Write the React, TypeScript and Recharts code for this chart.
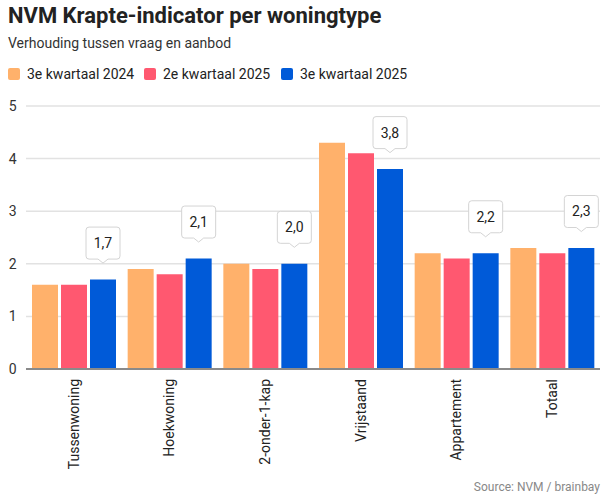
import React from "react";
import { BarChart, Bar, XAxis, YAxis, CartesianGrid, LabelList } from "recharts";

const CATEGORIES = ["Tussenwoning", "Hoekwoning", "2-onder-1-kap", "Vrijstaand", "Appartement", "Totaal"];
const Q3_2024 = [1.6, 1.9, 2.0, 4.3, 2.2, 2.3];
const Q2_2025 = [1.6, 1.8, 1.9, 4.1, 2.1, 2.2];
const Q3_2025 = [1.7, 2.1, 2.0, 3.8, 2.2, 2.3];
const Y_TICKS = [0, 1, 2, 3, 4, 5];

const SERIES = [
  { key: "q3_2024", name: "3e kwartaal 2024", color: "#FFB16B" },
  { key: "q2_2025", name: "2e kwartaal 2025", color: "#FF5870" },
  { key: "q3_2025", name: "3e kwartaal 2025", color: "#005AD8" },
];

const data = CATEGORIES.map((c, i) => ({
  name: c,
  q3_2024: Q3_2024[i],
  q2_2025: Q2_2025[i],
  q3_2025: Q3_2025[i],
}));

const FONT = "Roboto, 'Noto Sans', sans-serif";

const fmt = (v: number) => v.toFixed(1).replace(".", ",");

function Callout(props: any) {
  const { x, y, width, value } = props;
  const cx = x + width / 2;
  const tip = y - 16.5;
  const bottom = tip - 4;
  const top = bottom - 32;
  const l = cx - 17;
  const r = cx + 17;
  const rad = 3;
  const d = [
    `M${l + rad},${top}`,
    `H${r - rad}`,
    `Q${r},${top} ${r},${top + rad}`,
    `V${bottom - rad}`,
    `Q${r},${bottom} ${r - rad},${bottom}`,
    `H${cx + 5}`,
    `L${cx},${tip}`,
    `L${cx - 5},${bottom}`,
    `H${l + rad}`,
    `Q${l},${bottom} ${l},${bottom - rad}`,
    `V${top + rad}`,
    `Q${l},${top} ${l + rad},${top}`,
    "Z",
  ].join(" ");
  return (
    <g>
      <path d={d} fill="#fff" stroke="#d4d4d4" strokeWidth={1} />
      <text x={cx} y={top + 16} dy="0.35em" textAnchor="middle" fontSize={14} fill="#222" fontFamily={FONT}>
        {fmt(value)}
      </text>
    </g>
  );
}

function CategoryTick(props: any) {
  const { x, y, payload } = props;
  return (
    <text
      transform={`translate(${x},${y}) rotate(-90)`}
      textAnchor="end"
      dy="0.35em"
      fontSize={14}
      fill="#222"
      fontFamily={FONT}
    >
      {payload.value}
    </text>
  );
}

function ValueTick(props: any) {
  const { y, payload } = props;
  return (
    <text x={16.5} y={y} dy="0.35em" textAnchor="end" fontSize={14} fill="#333" fontFamily={FONT}>
      {payload.value}
    </text>
  );
}

export default function App() {
  return (
    <div style={{ position: "absolute", left: 0, top: 0, width: 616, height: 504, background: "#fff" }}>
      <BarChart
        width={616}
        height={504}
        data={data}
        margin={{ top: 106, right: 16, left: 0, bottom: 0 }}
        barCategoryGap={6}
        barGap={3}
      >
        <CartesianGrid vertical={false} stroke="#e2e2e2" strokeWidth={1.5} />
        <YAxis
          domain={[0, 5]}
          ticks={Y_TICKS}
          width={26}
          axisLine={false}
          tickLine={false}
          tick={<ValueTick />}
        />
        <XAxis
          dataKey="name"
          height={135}
          interval={0}
          tickLine={false}
          tickSize={0}
          tickMargin={10}
          axisLine={{ stroke: "#8a8a8a", strokeWidth: 2 }}
          tick={<CategoryTick />}
        />
        {SERIES.map((s) => (
          <Bar key={s.key} dataKey={s.key} name={s.name} fill={s.color} isAnimationActive={false}>
            {s.key === "q3_2025" ? <LabelList dataKey={s.key} content={<Callout />} /> : null}
          </Bar>
        ))}
      </BarChart>
      <svg
        width={616}
        height={504}
        style={{ position: "absolute", left: 0, top: 0, pointerEvents: "none" }}
        fontFamily={FONT}
      >
        <text x={8} y={23} fontSize={22} fontWeight={700} fill="#222">
          NVM Krapte-indicator per woningtype
        </text>
        <text x={8} y={48} fontSize={14} fill="#333">
          Verhouding tussen vraag en aanbod
        </text>
        {SERIES.map((s, i) => {
          const lx = [8, 144, 281][i];
          return (
            <g key={s.key}>
              <rect x={lx} y={68} width={12} height={12} rx={2} fill={s.color} />
              <text x={lx + 19} y={79} fontSize={14} fill="#222">
                {s.name}
              </text>
            </g>
          );
        })}
        <text x={600} y={491} textAnchor="end" fontSize={12} fill="#888">
          Source: NVM / brainbay
        </text>
      </svg>
    </div>
  );
}
